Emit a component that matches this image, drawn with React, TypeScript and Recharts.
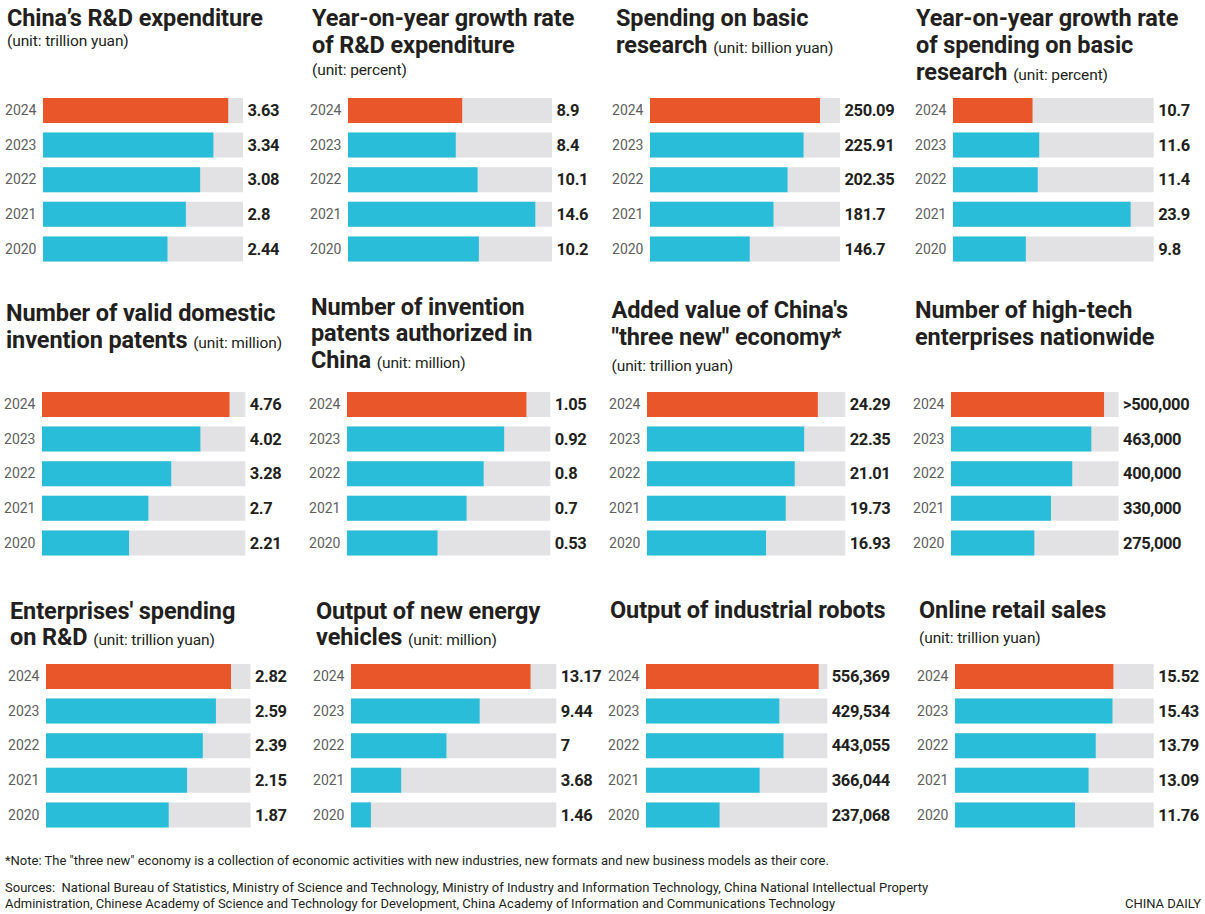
import React from 'react';
import { BarChart, Bar, XAxis, YAxis, Cell } from 'recharts';

const years = ['2024', '2023', '2022', '2021', '2020'];

const rdExpenditure = [3.63, 3.34, 3.08, 2.8, 2.44];
const rdGrowth = [8.9, 8.4, 10.1, 14.6, 10.2];
const basicResearch = [250.09, 225.91, 202.35, 181.7, 146.7];
const basicResearchGrowth = [10.7, 11.6, 11.4, 23.9, 9.8];
const validPatents = [4.76, 4.02, 3.28, 2.7, 2.21];
const authorizedPatents = [1.05, 0.92, 0.8, 0.7, 0.53];
const threeNewValue = [24.29, 22.35, 21.01, 19.73, 16.93];
const highTechFirms = [505000, 463000, 400000, 330000, 275000];
const highTechLabels = ['>500,000', '463,000', '400,000', '330,000', '275,000'];
const enterpriseRd = [2.82, 2.59, 2.39, 2.15, 1.87];
const nevOutput = [13.17, 9.44, 7, 3.68, 1.46];
const robotOutput = [556369, 429534, 443055, 366044, 237068];
const onlineRetail = [15.52, 15.43, 13.79, 13.09, 11.76];

const ORANGE = '#e8562a';
const CYAN = '#29bdd9';
const GRAY = '#e2e2e4';
const INK = '#231f20';
const FONT = 'Roboto, "Liberation Sans", sans-serif';

const YEAR_W = 50;
const VALUE_W = 90;
const PLOT_H = 173;

function BarPanel({ values, labels, max, left, right, top }) {
  const data = years.map((year, i) => ({
    year,
    value: values[i],
    label: labels ? labels[i] : values[i] >= 10000 ? values[i].toLocaleString('en-US') : String(values[i]),
  }));
  const trackW = right - left;
  return (
    <div style={{ position: 'absolute', left: left - YEAR_W, top }}>
      <BarChart
        width={YEAR_W + trackW + VALUE_W}
        height={PLOT_H}
        data={data}
        layout="vertical"
        margin={{ top: 0, right: 0, bottom: 0, left: 0 }}
      >
        <XAxis type="number" domain={[0, max]} hide />
        <YAxis
          yAxisId="yr"
          type="category"
          dataKey="year"
          width={YEAR_W}
          axisLine={false}
          tickLine={false}
          tickSize={0}
          tickMargin={6.5}
          tick={{ fill: '#5d5e60', fontSize: 14, fontFamily: FONT }}
        />
        <YAxis
          yAxisId="val"
          orientation="right"
          type="category"
          dataKey="label"
          width={VALUE_W}
          axisLine={false}
          tickLine={false}
          tickSize={0}
          tickMargin={4.5}
          tick={{ fill: INK, fontSize: 16.5, fontWeight: 700, fontFamily: FONT, letterSpacing: '-0.4px' }}
        />
        <Bar
          yAxisId="yr"
          dataKey="value"
          barSize={25}
          background={{ fill: GRAY }}
          isAnimationActive={false}
        >
          {data.map((d, i) => (
            <Cell key={d.year} fill={i === 0 ? ORANGE : CYAN} />
          ))}
        </Bar>
      </BarChart>
    </div>
  );
}

const titleStyle: React.CSSProperties = {
  position: 'absolute',
  fontFamily: FONT,
  fontWeight: 700,
  fontSize: 23.5,
  lineHeight: '26.7px',
  color: INK,
  whiteSpace: 'nowrap',
  letterSpacing: '-0.1px',
};

const unitStyle: React.CSSProperties = {
  fontFamily: FONT,
  fontWeight: 400,
  fontSize: 15.5,
  letterSpacing: '-0.1px',
  color: INK,
};

const footStyle: React.CSSProperties = {
  position: 'absolute',
  fontFamily: FONT,
  fontSize: 13,
  lineHeight: '16px',
  color: INK,
  whiteSpace: 'nowrap',
};

function Title({ x, top, children }) {
  return <div style={{ ...titleStyle, left: x, top }}>{children}</div>;
}

function Unit({ x, baseline, text }) {
  return (
    <div style={{ ...unitStyle, position: 'absolute', left: x, top: baseline - 14.3, lineHeight: '18px', whiteSpace: 'nowrap' }}>
      {text}
    </div>
  );
}

function Inline({ text }) {
  return <span style={unitStyle}>{text}</span>;
}

const ROW1 = 93.3;
const ROW2 = 386.9;
const ROW3 = 659;

export default function App() {
  return (
    <div style={{ position: 'relative', width: 1205, height: 914, background: '#fff', overflow: 'hidden' }}>
      <style>{'body{margin:0}'}</style>

      {/* row 1 */}
      <Title x={7} top={5.3}>China’s R&amp;D expenditure</Title>
      <Unit x={7} baseline={46.7} text="(unit: trillion yuan)" />
      <BarPanel values={rdExpenditure} max={3.92} left={42.7} right={242.7} top={ROW1} />

      <Title x={312} top={5.3}>Year-on-year growth rate<br />of R&amp;D expenditure</Title>
      <Unit x={312} baseline={75} text="(unit: percent)" />
      <BarPanel values={rdGrowth} max={15.9} left={347.7} right={551.7} top={ROW1} />

      <Title x={616} top={5.3}>Spending on basic<br />research <Inline text="(unit: billion yuan)" /></Title>
      <BarPanel values={basicResearch} max={279.5} left={650} right={840} top={ROW1} />

      <Title x={916} top={5.3}>Year-on-year growth rate<br />of spending on basic<br />research <Inline text="(unit: percent)" /></Title>
      <BarPanel values={basicResearchGrowth} max={27} left={953.3} right={1154} top={ROW1} />

      {/* row 2 */}
      <Title x={6} top={300.3}>Number of valid domestic<br />invention patents <Inline text="(unit: million)" /></Title>
      <BarPanel values={validPatents} max={5.16} left={42.2} right={245.5} top={ROW2} />

      <Title x={311} top={293.6}>Number of invention<br />patents authorized in<br />China <Inline text="(unit: million)" /></Title>
      <BarPanel values={authorizedPatents} max={1.19} left={347.1} right={550.4} top={ROW2} />

      <Title x={611.5} top={297}>Added value of China's<br />"three new" economy*</Title>
      <Unit x={611.5} baseline={371} text="(unit: trillion yuan)" />
      <BarPanel values={threeNewValue} max={28.2} left={646.7} right={845} top={ROW2} />

      <Title x={915} top={297}>Number of high-tech<br />enterprises nationwide</Title>
      <BarPanel values={highTechFirms} labels={highTechLabels} max={553000} left={950.7} right={1118.3} top={ROW2} />

      {/* row 3 */}
      <Title x={10} top={597.6}>Enterprises' spending<br />on R&amp;D <Inline text="(unit: trillion yuan)" /></Title>
      <BarPanel values={enterpriseRd} max={3.117} left={45.9} right={250.4} top={ROW3} />

      <Title x={316} top={597.6}>Output of new energy<br />vehicles <Inline text="(unit: million)" /></Title>
      <BarPanel values={nevOutput} max={15.06} left={350.9} right={556.2} top={ROW3} />

      <Title x={610} top={597}>Output of industrial robots</Title>
      <BarPanel values={robotOutput} max={584000} left={645.7} right={827} top={ROW3} />

      <Title x={919} top={597}>Online retail sales</Title>
      <Unit x={919} baseline={643} text="(unit: trillion yuan)" />
      <BarPanel values={onlineRetail} max={19.47} left={955.3} right={1154} top={ROW3} />

      {/* footer */}
      <div style={{ ...footStyle, left: 5, top: 853 }}>
        *Note: The "three new" economy is a collection of economic activities with new industries, new formats and new business models as their core.
      </div>
      <div style={{ ...footStyle, left: 5, top: 880 }}>
        Sources:&nbsp; National Bureau of Statistics, Ministry of Science and Technology, Ministry of Industry and Information Technology, China National Intellectual Property
        <br />
        Administration, Chinese Academy of Science and Technology for Development, China Academy of Information and Communications Technology
      </div>
      <div style={{ ...footStyle, right: 4, top: 896 }}>CHINA DAILY</div>
    </div>
  );
}
